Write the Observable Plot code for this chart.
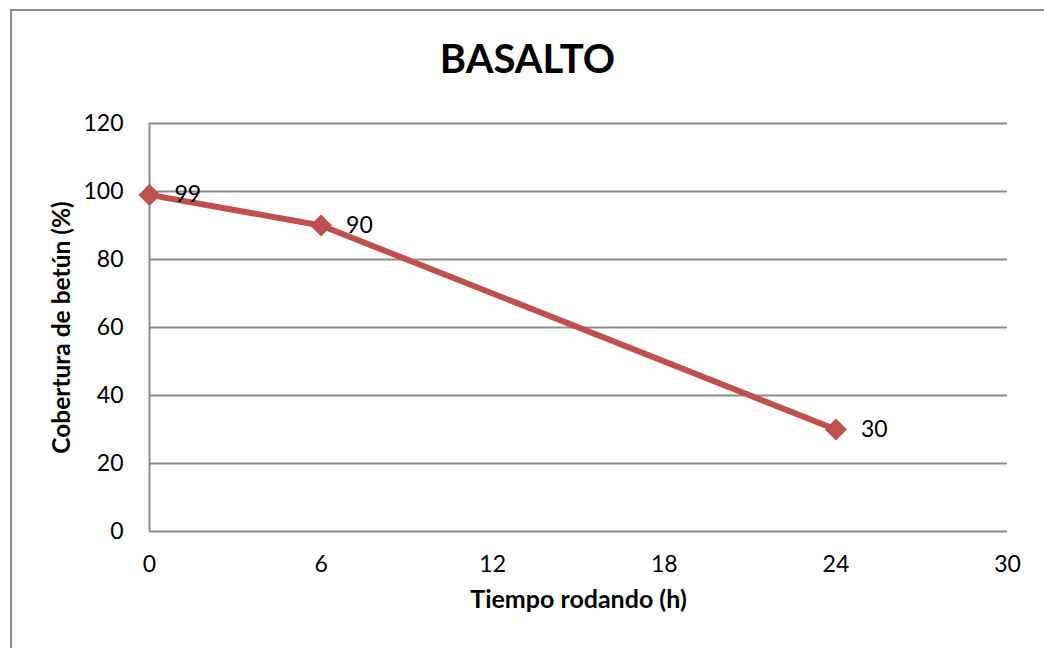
<!DOCTYPE html>
<html>
<head>
<meta charset="utf-8">
<script src="https://cdn.jsdelivr.net/npm/d3@7"></script>
<script src="https://cdn.jsdelivr.net/npm/@observablehq/plot@0.6"></script>
<style>
  html, body { margin: 0; padding: 0; background: #fff; }
  #wrap { position: relative; width: 1044px; height: 648px; overflow: hidden; }
  #border { position: absolute; left: 10px; top: 9px; width: 1100px; height: 700px;
            border-left: 2px solid #8c8c8c; border-top: 2px solid #8c8c8c; box-sizing: border-box; }
  #chart { position: absolute; left: 0; top: 0; }
</style>
</head>
<body>
<div id="wrap"><div id="border"></div><div id="chart"></div></div>
<script>
// Bitumen coverage of basalt aggregate vs. rolling time
const hours = [0, 6, 24];
const coverage = [99, 90, 30];
const xTicks = [0, 6, 12, 18, 24, 30];
const yTicks = [0, 20, 40, 60, 80, 100, 120];

const data = hours.map((h, i) => ({h, c: coverage[i]}));

const font = "Lato, 'Open Sans', sans-serif";
const red = "#c0504d";
const grey = "#8c8c8c";

const plot = Plot.plot({
  width: 1044,
  height: 648,
  marginLeft: 149,
  marginRight: 37,
  marginTop: 123,
  marginBottom: 117,
  style: {fontFamily: font, fontSize: "23px", color: "#000", background: "transparent"},
  x: {domain: [0, 30]},
  y: {domain: [0, 120]},
  marks: [
    Plot.gridY(yTicks, {stroke: grey, strokeOpacity: 1, strokeWidth: 2}),
    Plot.ruleX([0], {stroke: grey, strokeWidth: 2}),
    Plot.axisY(yTicks, {tickSize: 0, tickPadding: 26, label: null, fontSize: 23}),
    Plot.axisX(xTicks, {tickSize: 0, tickPadding: 24, label: null, fontSize: 23}),
    Plot.line(data, {x: "h", y: "c", stroke: red, strokeWidth: 6}),
    Plot.dot(data, {x: "h", y: "c", symbol: "diamond2", r: 9, fill: red, stroke: red}),
    Plot.text(data, {x: "h", y: "c", text: d => String(d.c), textAnchor: "start", dx: 25, fontSize: 23, fill: "#000"}),
    Plot.text(["BASALTO"], {frameAnchor: "top", dx: -51, dy: -79, fontSize: 40, fontWeight: "bold", fill: "#000"}),
    Plot.text(["Tiempo rodando (h)"], {frameAnchor: "bottom", dy: 76, fontSize: 25, fontWeight: "bold", fill: "#000"}),
    Plot.text(["Cobertura de betún (%)"], {frameAnchor: "left", textAnchor: "middle", dx: -87, rotate: -90, fontSize: 24.5, fontWeight: "bold", fill: "#000"})
  ]
});
document.getElementById("chart").appendChild(plot);
</script>
</body>
</html>
